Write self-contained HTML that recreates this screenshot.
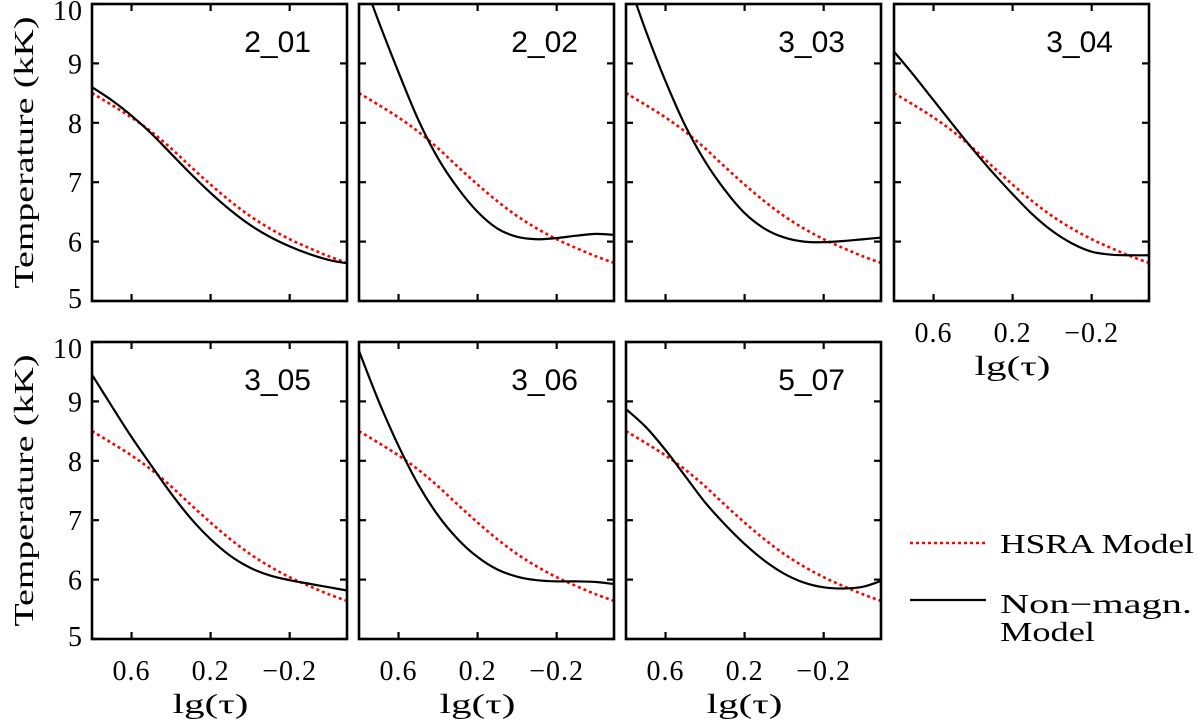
<!DOCTYPE html>
<html><head><meta charset="utf-8"><style>
html,body{margin:0;padding:0;background:#fff;}
svg{display:block;}
text{fill:#000;}
.tk{font-family:"Liberation Serif",serif;font-size:28px;letter-spacing:1px;}
.ti{font-family:"Liberation Sans",sans-serif;font-size:30px;}
.lab{font-family:"Liberation Serif",serif;font-size:27px;}
</style></head><body>
<svg id="chart" width="1200" height="723" viewBox="0 0 1200 723" xmlns="http://www.w3.org/2000/svg">
<defs id="defs"></defs>
<g id="panels"></g>
<g>
<line x1="910" y1="543" x2="986" y2="543" stroke="#ff0000" stroke-width="2.6" stroke-dasharray="3,3"/>
<text class="lab" x="1000" y="553" textLength="194" lengthAdjust="spacingAndGlyphs">HSRA Model</text>
<line x1="910" y1="600" x2="986" y2="600" stroke="#000" stroke-width="2.2"/>
<text class="lab" x="1000" y="613" textLength="192" lengthAdjust="spacingAndGlyphs">Non−magn.</text>
<text class="lab" x="1000" y="641" textLength="95" lengthAdjust="spacingAndGlyphs">Model</text>
</g>
</svg>
<script>
const lgTau = [0.8,0.7,0.6,0.5,0.4,0.3,0.2,0.1,0.0,-0.1,-0.2,-0.3,-0.4,-0.5];
const hsra = [8.50,8.30,8.09,7.85,7.57,7.26,6.96,6.68,6.43,6.22,6.04,5.89,5.75,5.63];
const panelNames = ["2_01","2_02","3_03","3_04","3_05","3_06","5_07"];
const s201 = [8.60,8.38,8.12,7.82,7.48,7.14,6.82,6.53,6.28,6.08,5.92,5.79,5.69,5.63];
const s202 = [10.6,9.7,8.85,8.05,7.40,6.90,6.50,6.22,6.08,6.04,6.06,6.10,6.13,6.11];
const s303 = [10.5,9.55,8.70,7.95,7.35,6.87,6.48,6.22,6.07,6.00,5.99,6.01,6.04,6.07];
const s304 = [9.20,8.80,8.38,7.96,7.55,7.16,6.80,6.46,6.18,5.97,5.83,5.78,5.77,5.77];
const s305 = [9.45,8.92,8.40,7.92,7.45,7.03,6.68,6.40,6.20,6.07,5.99,5.93,5.87,5.81];
const s306 = [9.85,9.00,8.25,7.60,7.08,6.68,6.38,6.17,6.05,5.99,5.97,5.97,5.96,5.92];
const s507 = [8.87,8.57,8.18,7.74,7.30,6.93,6.60,6.32,6.10,5.95,5.87,5.85,5.88,5.99];
const series = [s201,s202,s303,s304,s305,s306,s507];
const xTicks = [0.6,0.2,-0.2];
const xTickLabels = ["0.6","0.2","\u22120.2"];
const yTicks = [5,6,7,8,9,10];
const yTickLabels = ["5","6","7","8","9","10"];

const NS="http://www.w3.org/2000/svg";
const W=255,H=297,cols=[92,359,626,894],rows=[4,342];
const X0=0.8,X1=-0.49,Y0=5,Y1=10;
function mk(tag,attrs,parent){const e=document.createElementNS(NS,tag);for(const k in attrs)e.setAttribute(k,attrs[k]);parent.appendChild(e);return e;}
function smooth(pts){let d="M"+pts[0][0].toFixed(2)+","+pts[0][1].toFixed(2);
 for(let i=0;i<pts.length-1;i++){const p0=pts[Math.max(0,i-1)],p1=pts[i],p2=pts[i+1],p3=pts[Math.min(pts.length-1,i+2)];
 const c1=[p1[0]+(p2[0]-p0[0])/6,p1[1]+(p2[1]-p0[1])/6],c2=[p2[0]-(p3[0]-p1[0])/6,p2[1]-(p3[1]-p1[1])/6];
 d+=" C"+c1[0].toFixed(2)+","+c1[1].toFixed(2)+" "+c2[0].toFixed(2)+","+c2[1].toFixed(2)+" "+p2[0].toFixed(2)+","+p2[1].toFixed(2);}return d;}
const root=document.getElementById("panels"),defs=document.getElementById("defs");
const pos=[[0,0],[1,0],[2,0],[3,0],[0,1],[1,1],[2,1]];
pos.forEach((p,i)=>{
 const L=cols[p[0]],T=rows[p[1]];
 const sx=v=>L+(X0-v)/(X0-X1)*W, sy=v=>T+H-(v-Y0)/(Y1-Y0)*H;
 const g=mk("g",{},root);
 
 
 const cp=mk("clipPath",{id:"cp"+i},defs);mk("rect",{x:L,y:T,width:W,height:H},cp);
 const red=mk("path",{d:smooth(lgTau.map((x,k)=>[sx(x),sy(hsra[k])])),fill:"none",stroke:"#ff0000","stroke-width":2.6,"stroke-dasharray":"3,3","clip-path":"url(#cp"+i+")"},g);
 
 
 const blk=mk("path",{d:smooth(lgTau.map((x,k)=>[sx(x),sy(series[i][k])])),fill:"none",stroke:"#000","stroke-width":2.2,"clip-path":"url(#cp"+i+")"},g);
 
 
 const fr=mk("rect",{x:L,y:T,width:W,height:H,fill:"none",stroke:"#000","stroke-width":2.6},g);
 
 
 xTicks.forEach((t,k)=>{const x=sx(t);
  mk("line",{x1:x,y1:T+H,x2:x,y2:T+H-7,stroke:"#000","stroke-width":2.2},g);
  mk("line",{x1:x,y1:T,x2:x,y2:T+7,stroke:"#000","stroke-width":2.2},g);
  if(p[1]===1||i===3){const tl=mk("text",{x:x,y:T+H+41,"text-anchor":"middle",class:"tk"},g);tl.textContent=xTickLabels[k];
   
   }
 });
 yTicks.forEach((t,k)=>{const y=sy(t);
  mk("line",{x1:L,y1:y,x2:L+7,y2:y,stroke:"#000","stroke-width":2.2},g);
  mk("line",{x1:L+W,y1:y,x2:L+W-7,y2:y,stroke:"#000","stroke-width":2.2},g);
  if(p[0]===0){const tl=mk("text",{x:L-9,y:y+10+(t===10?6:0)+(t===5?-3:0),"text-anchor":"end",class:"tk"},g);tl.textContent=yTickLabels[k];
   
   }
 });
 const ti=mk("text",{x:L+W-36,y:T+48,"text-anchor":"end",class:"ti"},g);ti.textContent=panelNames[i];
 
 
 if(p[1]===1||i===3){const xl=mk("text",{x:L+W/2-9,y:T+H+74,"text-anchor":"middle",class:"lab",textLength:"76",lengthAdjust:"spacingAndGlyphs"},g);xl.textContent="lg(\u03C4)";
  
  }
 if(p[0]===0){const cy=T+H/2;const yl=mk("text",{x:0,y:0,"text-anchor":"middle",class:"lab",textLength:"272",lengthAdjust:"spacingAndGlyphs",transform:"translate(33,"+cy+") rotate(-90)"},g);yl.textContent="Temperature (kK)";
  
  }
});
</script>
</body></html>
